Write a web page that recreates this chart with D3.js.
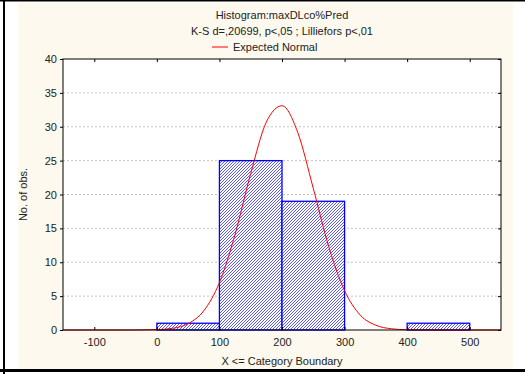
<!DOCTYPE html>
<html>
<head>
<meta charset="utf-8">
<script src="https://cdn.jsdelivr.net/npm/d3@7"></script>
<style>
  body { margin: 0; background: #fff; }
  text { font-family: "Liberation Sans", Arial, sans-serif; fill: #222; }
</style>
</head>
<body>
<div id="chart"></div>
<script>
// Histogram bins (upper boundary) and counts
const binStarts = [0, 100, 200, 400];
const binEnds = [100, 200, 300, 500];
const binCounts = [1, 25, 19, 1];

// Expected normal curve
const curveX = [-150, -100, -50, 0, 25, 50, 75, 100, 125, 150, 175, 200, 225, 250, 275, 300, 325, 350, 375, 400, 450, 500, 550];
const curveY = [0, 0, 0, 0.06, 0.25, 0.94, 2.84, 7.0, 14.1, 23.1, 30.7, 33.1, 29.2, 20.9, 12.2, 5.8, 2.2, 0.7, 0.18, 0.04, 0, 0, 0];

const xTicks = [-100, 0, 100, 200, 300, 400, 500];
const yTicks = [0, 5, 10, 15, 20, 25, 30, 35, 40];

const W = 525, H = 374;
const margin = { top: 59, right: 24, bottom: 44, left: 63 };
const width = W - margin.left - margin.right;
const height = H - margin.top - margin.bottom;

const root = d3.select("#chart").append("svg")
  .attr("width", W)
  .attr("height", H);

// Page frame
root.append("rect").attr("x", 18).attr("y", 3).attr("width", 495).attr("height", 367).attr("fill", "#fdf9ee");
root.append("rect").attr("x", 0).attr("y", 0).attr("width", W).attr("height", 1.5).attr("fill", "#000");
root.append("rect").attr("x", 3).attr("y", 0).attr("width", 2).attr("height", H).attr("fill", "#000");
root.append("rect").attr("x", 0).attr("y", 369).attr("width", W).attr("height", 3).attr("fill", "#000");

// Hatch pattern
const defs = root.append("defs");
defs.append("pattern")
  .attr("id", "hatch")
  .attr("patternUnits", "userSpaceOnUse")
  .attr("width", 3).attr("height", 3)
  .call(p => {
    p.append("rect").attr("width", 3).attr("height", 3).attr("fill", "#fff");
    p.append("path").attr("d", "M-1,1 L1,-1 M0,3 L3,0 M2,4 L4,2")
      .attr("stroke", "#2222ff").attr("stroke-width", 0.75);
  });

const svg = root.append("g")
  .attr("transform", `translate(${margin.left},${margin.top})`);

const x = d3.scaleLinear().domain([-150, 550]).range([0, width]);
const y = d3.scaleLinear().domain([0, 40]).range([height, 0]);

svg.append("rect").attr("width", width).attr("height", height).attr("fill", "#fff");

// Grid lines
svg.selectAll(".grid")
  .data(yTicks.filter(d => d > 0 && d < 40))
  .enter().append("line")
    .attr("x1", 0).attr("x2", width)
    .attr("y1", d => y(d)).attr("y2", d => y(d))
    .attr("stroke", "#c4c4c4")
    .attr("stroke-dasharray", "2,2");

// Bars
svg.selectAll(".bar")
  .data(binCounts)
  .enter().append("rect")
    .attr("x", (d, i) => x(binStarts[i]))
    .attr("y", d => y(d))
    .attr("width", (d, i) => x(binEnds[i]) - x(binStarts[i]))
    .attr("height", d => y(0) - y(d))
    .attr("fill", "url(#hatch)")
    .attr("stroke", "#0000ff")
    .attr("stroke-width", 1.3);

// Expected normal
const line = d3.line()
  .x((d, i) => x(curveX[i]))
  .y(d => y(d))
  .curve(d3.curveMonotoneX);

svg.append("path")
  .datum(curveY)
  .attr("d", line)
  .attr("fill", "none")
  .attr("stroke", "#ff0000")
  .attr("stroke-width", 1);

// Frame
svg.append("rect").attr("width", width).attr("height", height)
  .attr("fill", "none").attr("stroke", "#000").attr("stroke-width", 1);

// Axes
svg.append("g")
  .attr("transform", `translate(0,${height})`)
  .call(d3.axisBottom(x).tickValues(xTicks).tickSize(-3).tickPadding(8).tickFormat(d => String(d)));
svg.append("g")
  .call(d3.axisLeft(y).tickValues(yTicks).tickSize(3).tickPadding(3));
svg.append("g")
  .call(d3.axisTop(x).tickValues(xTicks).tickSize(-3).tickFormat(""));
svg.append("g")
  .attr("transform", `translate(${width},0)`)
  .call(d3.axisRight(y).tickValues(yTicks).tickSize(-3).tickFormat(""));

svg.selectAll(".domain").remove();
svg.selectAll(".tick line").attr("stroke", "#000");
svg.selectAll(".tick text")
  .style("font-family", "'Liberation Sans', Arial, sans-serif")
  .style("font-size", "11px")
  .attr("fill", "#222");

// Axis titles
svg.append("text")
  .attr("x", width / 2).attr("y", height + 35)
  .attr("text-anchor", "middle")
  .style("font-size", "11px")
  .text("X <= Category Boundary");

svg.append("text")
  .attr("transform", `translate(${23 - margin.left},${height / 2}) rotate(-90)`)
  .attr("text-anchor", "middle")
  .attr("dy", "0.35em")
  .style("font-size", "11px")
  .text("No. of obs.");

// Title and legend
const cx = margin.left + width / 2;
root.append("text").attr("x", cx).attr("y", 19)
  .attr("text-anchor", "middle").style("font-size", "11px")
  .text("Histogram:maxDLco%Pred");
root.append("text").attr("x", cx).attr("y", 35)
  .attr("text-anchor", "middle").style("font-size", "11px")
  .text("K-S d=,20699, p<,05 ; Lilliefors p<,01");
root.append("line")
  .attr("x1", 212).attr("x2", 228).attr("y1", 47).attr("y2", 47)
  .attr("stroke", "#ff0000").attr("stroke-width", 1);
root.append("text").attr("x", 233).attr("y", 51)
  .style("font-size", "11px")
  .text("Expected Normal");
</script>
</body>
</html>
